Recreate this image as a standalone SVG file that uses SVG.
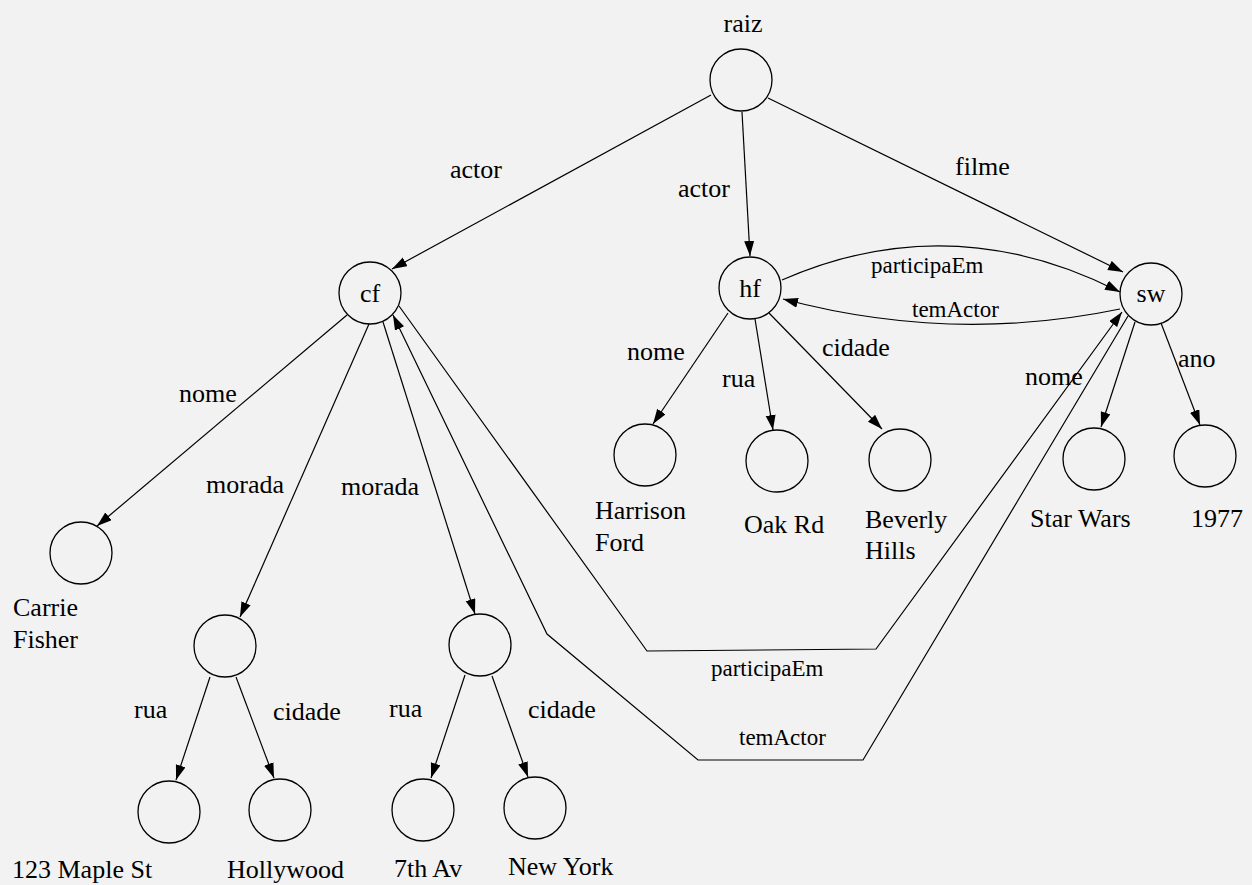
<svg xmlns="http://www.w3.org/2000/svg" width="1252" height="885" viewBox="0 0 1252 885">
<defs>
<marker id="ah" markerUnits="userSpaceOnUse" markerWidth="16" markerHeight="11" refX="15" refY="5" orient="auto">
<path d="M0,0 L15,5 L0,10 z" fill="#000"/>
</marker>
<style>
.n{fill:none;stroke:#000;stroke-width:1.3}
.e{fill:none;stroke:#000;stroke-width:1.2;marker-end:url(#ah)}
text{font-family:"Liberation Serif","Times New Roman",serif;font-size:26px;fill:#000}
.s{font-size:23px}
.c{text-anchor:middle}
</style>
</defs>
<rect width="1252" height="885" fill="#f2f2f2"/>
<g id="connectors">
<line class="e" x1="711" y1="95" x2="392" y2="269"/>
<line class="e" x1="742" y1="112" x2="750" y2="256"/>
<line class="e" x1="768" y1="98" x2="1123" y2="272"/>
<path class="e" d="M782,280 Q951,206 1120,292"/>
<path class="e" d="M1120,309 Q952,344 783,299"/>
<line class="e" x1="347" y1="315" x2="97" y2="526"/>
<line class="e" x1="369" y1="324" x2="240" y2="617"/>
<line class="e" x1="383" y1="322" x2="475" y2="614"/>
<polyline class="e" points="399,306 647,651 876,649 1122,312"/>
<polyline class="e" points="1128,316 863,760 698,760 547,634 393,315"/>
<line class="e" x1="728" y1="313" x2="653" y2="424"/>
<line class="e" x1="755" y1="319" x2="773" y2="430"/>
<line class="e" x1="769" y1="313" x2="882" y2="429"/>
<line class="e" x1="1135" y1="322" x2="1101" y2="427"/>
<line class="e" x1="1161" y1="323" x2="1200" y2="425"/>
<line class="e" x1="210" y1="677" x2="176" y2="780"/>
<line class="e" x1="236" y1="677" x2="274" y2="778"/>
<line class="e" x1="465" y1="675" x2="431" y2="778"/>
<line class="e" x1="492" y1="676" x2="528" y2="777"/>
</g>
<g id="edge-labels">
<text x="450" y="178">actor</text>
<text x="678" y="197">actor</text>
<text x="955" y="175">filme</text>
<text x="179" y="402">nome</text>
<text x="206" y="493">morada</text>
<text x="341" y="495">morada</text>
<text class="s" x="871" y="273">participaEm</text>
<text class="s" x="912" y="317">temActor</text>
<text x="627" y="360">nome</text>
<text x="722" y="387">rua</text>
<text x="822" y="356">cidade</text>
<text x="1025" y="385">nome</text>
<text x="1178" y="367">ano</text>
<text x="134" y="718">rua</text>
<text x="273" y="720">cidade</text>
<text x="389" y="717">rua</text>
<text x="528" y="718">cidade</text>
<text class="s" x="711" y="676">participaEm</text>
<text class="s" x="739" y="745">temActor</text>
</g>
<g id="raiz"><circle class="n" cx="741" cy="80" r="31"/><text class="c" x="743" y="32">raiz</text></g>
<g id="cf"><circle class="n" cx="370" cy="293" r="31"/><text class="c" x="370" y="302">cf</text></g>
<g id="hf"><circle class="n" cx="750" cy="288" r="31"/><text class="c" x="750" y="297">hf</text></g>
<g id="sw"><circle class="n" cx="1151" cy="294" r="31"/><text class="c" x="1151" y="302">sw</text></g>
<g id="carrie"><circle class="n" cx="81" cy="553" r="31"/><text x="13" y="616">Carrie</text><text x="13" y="648">Fisher</text></g>
<g id="harrison"><circle class="n" cx="645" cy="455" r="31"/><text x="595" y="519">Harrison</text><text x="595" y="551">Ford</text></g>
<g id="oakrd"><circle class="n" cx="777" cy="461" r="31"/><text x="744" y="533">Oak Rd</text></g>
<g id="beverly"><circle class="n" cx="900" cy="460" r="31"/><text x="865" y="528">Beverly</text><text x="865" y="559">Hills</text></g>
<g id="starwars"><circle class="n" cx="1094" cy="459" r="31"/><text x="1030" y="527">Star Wars</text></g>
<g id="y1977"><circle class="n" cx="1205" cy="456" r="31"/><text x="1191" y="527">1977</text></g>
<g id="morada1"><circle class="n" cx="225" cy="646" r="31"/></g>
<g id="morada2"><circle class="n" cx="480" cy="645" r="31"/></g>
<g id="maple"><circle class="n" cx="169" cy="812" r="31"/><text x="12" y="878">123 Maple St</text></g>
<g id="hollywood"><circle class="n" cx="280" cy="810" r="31"/><text x="227" y="878">Hollywood</text></g>
<g id="av7"><circle class="n" cx="423" cy="810" r="31"/><text x="394" y="877">7th Av</text></g>
<g id="newyork"><circle class="n" cx="535" cy="808" r="31"/><text x="508" y="875">New York</text></g>
</svg>
